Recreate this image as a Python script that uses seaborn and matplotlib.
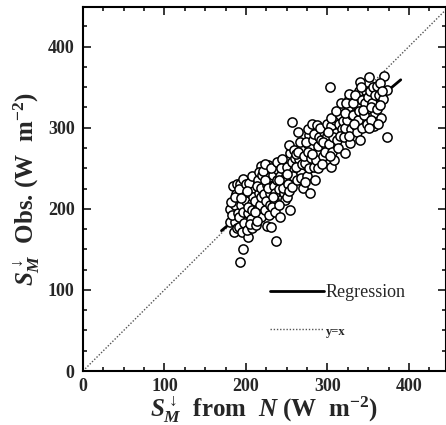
import matplotlib
matplotlib.use("Agg")
import matplotlib.pyplot as plt
import numpy as np
import pandas as pd
import seaborn as sns
from matplotlib.ticker import MultipleLocator

# points, grouped by x strips
x_obs = [
    181, 181, 184, 187, 188, 188, 185, 183, 186, 189, 182, 190, 189, 186,
    193, 197, 193, 197, 195, 199, 192, 194, 196, 198, 191, 200, 195, 198, 192, 197, 200, 194,
    203, 201, 205, 207, 210, 210, 208, 202, 204, 206, 209, 203, 207, 201, 205, 208,
    214, 216, 218, 212, 215, 211, 217, 219, 213, 216, 218, 211, 220, 214, 219,
    226, 224, 226, 228, 227, 222, 225, 229, 221, 223, 228, 230, 224, 227,
    231, 235, 234, 237, 233, 236, 238, 232, 239, 231, 236, 240, 233, 238,
    242, 242, 247, 248, 244, 246, 241, 249, 243, 245, 248, 250, 241,
    254, 251, 255, 254, 253, 259, 257, 259, 252, 256, 258, 253, 260, 257, 251,
    264, 267, 265, 268, 270, 262, 263, 266, 269, 261, 268, 264,
    273, 279, 279, 277, 271, 275, 276, 274, 278, 272, 280, 276,
    285, 283, 281, 287, 287, 282, 286, 289, 284, 288, 281, 290,
    292, 298, 294, 296, 291, 299, 293, 297, 295, 300,
    304, 308, 304, 303, 310, 302, 306, 307, 301, 309, 305, 303,
    314, 316, 312, 318, 311, 315, 319, 313, 317, 320,
    322, 325, 327, 328, 326, 321, 324, 329, 323, 327, 330, 322,
    332, 339, 340, 335, 337, 331, 338, 334, 336, 333, 339,
    340, 342, 349, 345, 347, 343, 346, 348, 341, 344, 350,
    351, 357, 355, 352, 358, 354, 356, 353, 359, 351,
    361, 361, 366, 370, 373, 373, 363, 365, 368, 362, 367, 364,
]
y_obs = [
    184, 200, 228, 184, 211, 218, 171, 192, 205, 176, 208, 195, 230, 215,
    134, 150, 230, 237, 186, 199, 178, 205, 215, 222, 190, 209, 172, 182, 225, 196, 230, 213,
    165, 174, 220, 207, 186, 226, 176, 195, 232, 188, 214, 202, 240, 222, 181, 198,
    198, 220, 253, 180, 235, 210, 205, 190, 228, 245, 215, 196, 242, 185, 226,
    179, 198, 229, 239, 254, 218, 210, 220, 247, 235, 192, 205, 255, 226,
    178, 211, 228, 160, 242, 220, 235, 202, 248, 250, 196, 225, 215, 258,
    190, 240, 219, 211, 261, 232, 205, 245, 250, 226, 238, 215, 235,
    198, 252, 236, 269, 279, 273, 307, 248, 230, 258, 240, 222, 263, 227, 243,
    295, 244, 261, 273, 226, 252, 235, 282, 255, 268, 238, 270,
    256, 219, 277, 291, 265, 240, 270, 282, 250, 233, 262, 298,
    236, 252, 304, 303, 269, 285, 260, 278, 292, 250, 268, 288,
    285, 277, 265, 295, 300, 290, 255, 270, 282, 305,
    252, 260, 302, 350, 293, 280, 270, 288, 295, 310, 312, 265,
    304, 316, 285, 298, 320, 290, 308, 275, 330, 288,
    269, 322, 335, 281, 341, 300, 310, 298, 330, 290, 315, 318,
    316, 345, 356, 302, 325, 330, 310, 340, 295, 305, 320,
    285, 334, 323, 315, 345, 300, 330, 305, 350, 322, 338,
    363, 302, 330, 345, 318, 310, 350, 325, 340, 300,
    351, 323, 312, 364, 346, 289, 340, 355, 335, 305, 345, 328,
]
reg_x = [170, 390]
reg_y = [173, 359]
diag = [0, 449]

df = pd.DataFrame({"x": x_obs, "y": y_obs})

sns.set_style("ticks")
plt.rcParams["font.family"] = ["Liberation Serif", "DejaVu Serif"]
plt.rcParams["mathtext.fontset"] = "custom"
plt.rcParams["mathtext.rm"] = "Liberation Serif:bold"
plt.rcParams["mathtext.it"] = "Liberation Serif:italic:bold"
plt.rcParams["mathtext.bf"] = "Liberation Serif:bold"

fig = plt.figure(figsize=(4.46, 4.25), dpi=100)
ax = fig.add_axes([0.186, 0.127, 0.813, 0.857])

ax.plot(diag, diag, color="#555555", linestyle=(0, (1, 1.3)), linewidth=1.0, label="y=x")
ax.plot(reg_x, reg_y, color="black", linewidth=2.0, label="Regression")
sns.scatterplot(data=df, x="x", y="y", ax=ax, s=44, facecolor="white",
                edgecolor="black", linewidth=1.1, zorder=3)

ax.set_xlim(0, 445)
ax.set_ylim(0, 449)
ax.xaxis.set_major_locator(MultipleLocator(100))
ax.yaxis.set_major_locator(MultipleLocator(100))
ax.xaxis.set_minor_locator(MultipleLocator(25))
ax.yaxis.set_minor_locator(MultipleLocator(25))
ax.tick_params(which="both", direction="in", top=True, right=True, width=1.3,
               labelsize=13)
ax.tick_params(axis="x", which="major", pad=5)
ax.tick_params(axis="y", which="major", pad=6)
ax.tick_params(which="major", length=6)
ax.tick_params(which="minor", length=3)
for lab in ax.get_xticklabels() + ax.get_yticklabels():
    lab.set_fontweight("bold")
for sp in ax.spines.values():
    sp.set_linewidth(1.5)
    sp.set_color("black")

ax.set_xlabel(r"$S_M^{\downarrow}$  from  $N$ (W  m$^{-2}$)", fontsize=18,
              fontweight="bold", labelpad=0)
ax.set_ylabel(r"$S_M^{\downarrow}$  Obs. (W  m$^{-2}$)", fontsize=18,
              fontweight="bold", labelpad=4)

handles, labels = ax.get_legend_handles_labels()
leg = ax.legend(handles[::-1], labels[::-1], loc="lower left",
                bbox_to_anchor=(0.47, 0.045), frameon=False, fontsize=13,
                handlelength=3.0, handletextpad=0.1, labelspacing=1.2)
leg.get_texts()[1].set_fontsize(9)
leg.get_texts()[1].set_fontweight("bold")

fig.savefig("out.png", dpi=100)
